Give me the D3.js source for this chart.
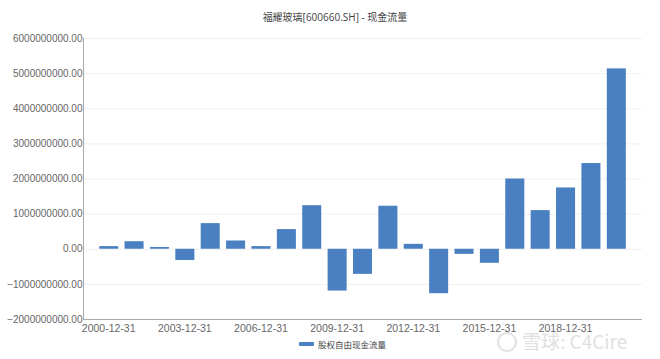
<!DOCTYPE html>
<html><head><meta charset="utf-8">
<script src="https://cdn.jsdelivr.net/npm/d3@7"></script>
<style>body{margin:0;background:#fff;}svg{display:block;font-family:"Open Sans","Noto Sans CJK SC",sans-serif;}</style>
</head><body><svg id="c" width="660" height="359"></svg>
<script>
const title = "福耀玻璃[600660.SH] - 现金流量";
const seriesName = "股权自由现金流量";
const categories = ["2000-12-31","2001-12-31","2002-12-31","2003-12-31","2004-12-31","2005-12-31","2006-12-31","2007-12-31","2008-12-31","2009-12-31","2010-12-31","2011-12-31","2012-12-31","2013-12-31","2014-12-31","2015-12-31","2016-12-31","2017-12-31","2018-12-31","2019-12-31","2020-12-31"];
const values = [75e6,215e6,50e6,-320e6,730e6,235e6,75e6,560e6,1240e6,-1190e6,-715e6,1225e6,140e6,-1265e6,-145e6,-400e6,2000e6,1100e6,1745e6,2440e6,5135e6];
const yTicks = [-2e9,-1e9,0,1e9,2e9,3e9,4e9,5e9,6e9];
const xTickLabels = ["2000-12-31","2003-12-31","2006-12-31","2009-12-31","2012-12-31","2015-12-31","2018-12-31"];

const svg = d3.select("#c");
const L = 83, R = 642, T = 38, B = 319;
const y = d3.scaleLinear().domain([-2e9, 6e9]).range([B, T]);
const x = d3.scaleBand().domain(categories).range([96, 629]).paddingInner(0.25).paddingOuter(0.125);

// grid
svg.append("g").selectAll("line").data(yTicks.filter(d=>d!==-2e9)).join("line")
  .attr("x1", L).attr("x2", R).attr("y1", d=>y(d)+0.5).attr("y2", d=>y(d)+0.5)
  .attr("stroke", "#f0f0f0").attr("stroke-width", 1);

// y axis
const ya = svg.append("g").attr("transform", `translate(${L+0.5},0)`)
  .call(d3.axisLeft(y).tickValues(yTicks).tickSize(0).tickPadding(1).tickFormat(d=>d3.format(".2f")(d)));
ya.select(".domain").attr("stroke", "#aaa").attr("d", `M0,${T}V${B}`);
ya.selectAll("text").attr("fill", "#666").style("font-size", "10px");

// x axis
const xa = svg.append("g").attr("transform", `translate(0,${B+0.5})`)
  .call(d3.axisBottom(x).tickValues(xTickLabels).tickSize(0).tickPadding(5));
xa.select(".domain").attr("stroke", "#aaa").attr("d", `M${L},0H${R}`);
xa.selectAll("text").attr("fill", "#666").style("font-size", "10.5px");

// bars
svg.append("g").selectAll("rect").data(values).join("rect")
  .attr("x", (d,i)=>x(categories[i]))
  .attr("width", x.bandwidth())
  .attr("y", d=>y(Math.max(0,d)))
  .attr("height", d=>Math.abs(y(d)-y(0)))
  .attr("fill", "#4a80c2");

// title
svg.append("text").attr("x", 335).attr("y", 21).attr("text-anchor", "middle")
  .attr("fill", "#444").style("font-size", "10px").text(title);

// legend
svg.append("rect").attr("x", 299).attr("y", 342).attr("width", 15).attr("height", 4).attr("rx", 1).attr("fill", "#4a80c2");
svg.append("text").attr("x", 318).attr("y", 347.5).attr("fill", "#444").style("font-size", "8.5px")
  .style("font-family", "'Noto Sans CJK SC',sans-serif").text(seriesName);

// watermark
const wm = svg.append("g").attr("opacity", 0.9);
wm.append("circle").attr("cx", 507).attr("cy", 342).attr("r", 9).attr("fill", "none").attr("stroke", "#ddd").attr("stroke-width", 2);
wm.append("text").attr("x", 522).attr("y", 349).attr("fill", "#ddd").style("font-size", "19px")
  .style("font-family", "'Noto Sans CJK SC',sans-serif").text("雪球: C4Cire");
</script></body></html>
